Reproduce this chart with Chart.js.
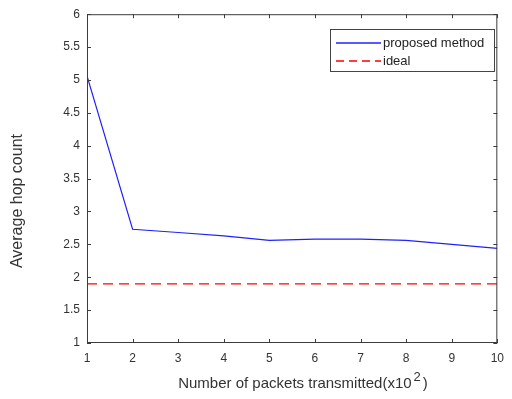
<!DOCTYPE html>
<html>
<head>
<meta charset="utf-8">
<script src="https://cdn.jsdelivr.net/npm/chart.js@4/dist/chart.umd.min.js"></script>
<style>
  html, body { margin: 0; padding: 0; background: #fff; }
  #wrap { width: 512px; height: 399px; position: relative; }
</style>
</head>
<body>
<div id="wrap"><canvas id="hopChart" width="512" height="399"></canvas></div>
<script>
// Packets transmitted (x10^2) vs average hop count
const packets   = [1, 2, 3, 4, 5, 6, 7, 8, 9, 10];
const proposed  = [5.06, 2.73, 2.68, 2.63, 2.56, 2.58, 2.58, 2.56, 2.50, 2.44];
const ideal     = [1.9, 1.9, 1.9, 1.9, 1.9, 1.9, 1.9, 1.9, 1.9, 1.9];
const yTicks    = [1, 1.5, 2, 2.5, 3, 3.5, 4, 4.5, 5, 5.5, 6];
const legendTxt = ['proposed method', 'ideal'];

const AXIS = '#3c3c3c';
const BLUE = '#2020ff';
const RED  = '#ff0000';
const FONT = 'Liberation Sans, Arial, sans-serif';

// box around plot + inward tick marks on all four sides, axis titles
const frameBox = {
  id: 'frameBox',
  afterDraw(chart) {
    const { ctx, chartArea: a, scales: { x, y } } = chart;
    ctx.save();
    ctx.strokeStyle = AXIS;
    ctx.lineWidth = 1;
    ctx.strokeRect(a.left + 0.5, a.top + 0.5, a.right - a.left - 1, a.bottom - a.top - 1);
    ctx.beginPath();
    packets.forEach(v => {
      const px = Math.round(x.getPixelForValue(v)) + 0.5;
      ctx.moveTo(px, a.bottom); ctx.lineTo(px, a.bottom - 4);
      ctx.moveTo(px, a.top);    ctx.lineTo(px, a.top + 4);
    });
    yTicks.forEach(v => {
      const py = Math.round(y.getPixelForValue(v)) + 0.5;
      ctx.moveTo(a.left, py);  ctx.lineTo(a.left + 4, py);
      ctx.moveTo(a.right, py); ctx.lineTo(a.right - 4, py);
    });
    ctx.stroke();

    ctx.fillStyle = '#333';
    ctx.textBaseline = 'middle';
    ctx.font = '15px ' + FONT;
    const main = 'Number of packets transmitted(x10';
    const w1 = ctx.measureText(main).width;
    const w3 = ctx.measureText(')').width;
    ctx.font = '13px ' + FONT;
    const w2 = ctx.measureText('2').width;
    const sx = 303 - (w1 + w2 + 4 + w3) / 2;
    ctx.textAlign = 'left';
    ctx.font = '15px ' + FONT;
    ctx.fillText(main, sx, 384);
    ctx.font = '13px ' + FONT;
    ctx.fillText('2', sx + w1 + 2, 377);
    ctx.font = '15px ' + FONT;
    ctx.fillText(')', sx + w1 + w2 + 4, 384);

    ctx.translate(18, 201);
    ctx.rotate(-Math.PI / 2);
    ctx.textAlign = 'center';
    ctx.font = '16px ' + FONT;
    ctx.fillText('Average hop count', 0, 0);
    ctx.restore();
  }
};

// boxed legend inside the top right corner
const boxLegend = {
  id: 'boxLegend',
  afterDraw(chart) {
    const ctx = chart.ctx;
    const lx = 330, ly = 29, lw = 164, lh = 42;
    ctx.save();
    ctx.fillStyle = '#fff';
    ctx.fillRect(lx, ly, lw, lh);
    ctx.lineWidth = 1;
    ctx.strokeStyle = '#444';
    ctx.strokeRect(lx + 0.5, ly + 0.5, lw, lh);

    ctx.lineWidth = 1.5;
    ctx.strokeStyle = BLUE;
    ctx.setLineDash([]);
    ctx.beginPath();
    ctx.moveTo(336, 43); ctx.lineTo(381, 43);
    ctx.stroke();

    ctx.strokeStyle = RED;
    ctx.setLineDash([8, 5]);
    ctx.beginPath();
    ctx.moveTo(336, 61); ctx.lineTo(381, 61);
    ctx.stroke();
    ctx.setLineDash([]);

    ctx.fillStyle = '#222';
    ctx.font = '13px ' + FONT;
    ctx.textAlign = 'left';
    ctx.textBaseline = 'middle';
    ctx.fillText(legendTxt[0], 383, 43);
    ctx.fillText(legendTxt[1], 383, 61);
    ctx.restore();
  }
};

new Chart(document.getElementById('hopChart'), {
  type: 'line',
  data: {
    datasets: [
      {
        label: legendTxt[0],
        data: packets.map((p, i) => ({ x: p, y: proposed[i] })),
        borderColor: BLUE, borderWidth: 1.2, pointRadius: 0, tension: 0
      },
      {
        label: legendTxt[1],
        data: packets.map((p, i) => ({ x: p, y: ideal[i] })),
        borderColor: RED, borderWidth: 1.2, borderDash: [10, 6], pointRadius: 0, tension: 0
      }
    ]
  },
  options: {
    responsive: false,
    animation: false,
    layout: { padding: { left: 0, right: 6, top: 13, bottom: 0 } },
    plugins: { legend: { display: false }, tooltip: { enabled: false } },
    scales: {
      x: {
        type: 'linear', min: 1, max: 10,
        afterBuildTicks: s => { s.ticks = packets.map(v => ({ value: v })); },
        afterFit: s => { s.height = 56; },
        grid: { display: false, drawTicks: false },
        border: { display: false },
        ticks: { color: '#333', font: { size: 12, family: FONT }, padding: 8, maxRotation: 0,
                 callback: v => String(v) }
      },
      y: {
        type: 'linear', min: 1, max: 6,
        afterBuildTicks: s => { s.ticks = yTicks.map(v => ({ value: v })); },
        afterFit: s => { s.width = 87; },
        grid: { display: false, drawTicks: false },
        border: { display: false },
        ticks: { color: '#333', font: { size: 12, family: FONT }, padding: 7,
                 callback: v => String(v) }
      }
    }
  },
  plugins: [frameBox, boxLegend]
});
</script>
</body>
</html>
